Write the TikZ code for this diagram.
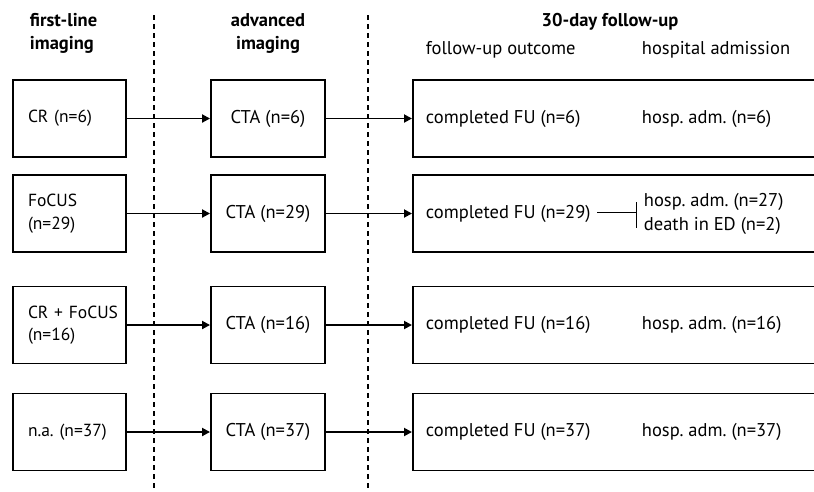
\documentclass[tikz,border=0pt]{standalone}
\usepackage{fontspec}
\setmainfont{PT Sans}
\usetikzlibrary{arrows.meta}
\usetikzlibrary{calc}
\frenchspacing

\begin{document}
\begin{tikzpicture}[x=1pt, y=-1pt, line width=1.9pt, every node/.style={font=\fontsize{18.5}{22.5}\selectfont, inner sep=0pt}]
\useasboundingbox (0,0) rectangle (814,491);
\tikzset{lbox/.style={draw, minimum width=113pt, minimum height=77pt, text width=83pt, inner xsep=15pt, align=left, font=\fontsize{17.5}{22.5}\selectfont},
  mbox/.style={draw, minimum width=114pt, minimum height=77pt, align=center},
  rbox/.style={draw, minimum width=430pt, minimum height=77pt, anchor=west},
  hdr/.style={font=\fontsize{18.5}{23}\selectfont\bfseries}}

% headers
\node[hdr, align=left, anchor=west] (h1) at (29,33) {first-line\\imaging};
\node[hdr, align=center] (h2) at (268,33) {advanced\\imaging};
\node[hdr] (h3) at (610,22) {30-day follow-up};
\node[anchor=west] (h31) at (425,50) {follow-up outcome};
\node[anchor=west] (h32) at (641,50) {hospital admission};

% dividers
\draw[dash pattern=on 5pt off 4pt] (154,15) -- (154,491);
\draw[dash pattern=on 5pt off 4pt] (368,15) -- (368,491);

% first-line
\node[lbox] (a1) at (69.5,118.5) {\mbox{CR (n=6)}};
\node[lbox] (a2) at (69.5,213.5) {\mbox{FoCUS}\\(n=29)};
\node[lbox] (a3) at (69.5,325) {\mbox{CR + FoCUS}\\(n=16)};
\node[lbox] (a4) at (69.5,432) {\mbox{n.a. (n=37)}};

% advanced
\node[mbox] (b1) at (268,118.5) {CTA (n=6)};
\node[mbox] (b2) at (268,213.5) {CTA (n=29)};
\node[mbox] (b3) at (268,325) {CTA (n=16)};
\node[mbox] (b4) at (268,432) {CTA (n=37)};

% follow-up
\node[rbox] (c1) at (412,118.5) {};
\node[rbox] (c2) at (412,213.5) {};
\node[rbox] (c3) at (412,325) {};
\node[rbox] (c4) at (412,432) {};

\node[anchor=west] (fu1) at (425,118.5) {completed FU (n=6)};
\node[anchor=west] (fu2) at (425,213.5) {completed FU (n=29)};
\node[anchor=west] (fu3) at (425,325) {completed FU (n=16)};
\node[anchor=west] (fu4) at (425,432) {completed FU (n=37)};

\node[anchor=west] (ha1) at (641,118.5) {hosp. adm. (n=6)};
\node[anchor=west, align=left, font=\fontsize{18.5}{24}\selectfont] (ha2) at (643,213.5) {hosp. adm. (n=27)\\death in ED (n=2)};
\node[anchor=west] (ha3) at (641,325) {hosp. adm. (n=16)};
\node[anchor=west] (ha4) at (641,432) {hosp. adm. (n=37)};

\foreach \i in {1,2,3,4}{
  \draw[-{Triangle[length=8pt, width=8pt]}] (a\i) -- (b\i);
  \draw[-{Triangle[length=8pt, width=8pt]}] (b\i) -- (c\i);
}

\coordinate (br) at (636,212);
\draw[line width=0.9pt] ([xshift=6pt]fu2.east |- br) -- (br);
\draw[line width=0.9pt] ([yshift=10pt]br) -- ([yshift=-16pt]br);
\end{tikzpicture}
\end{document}
